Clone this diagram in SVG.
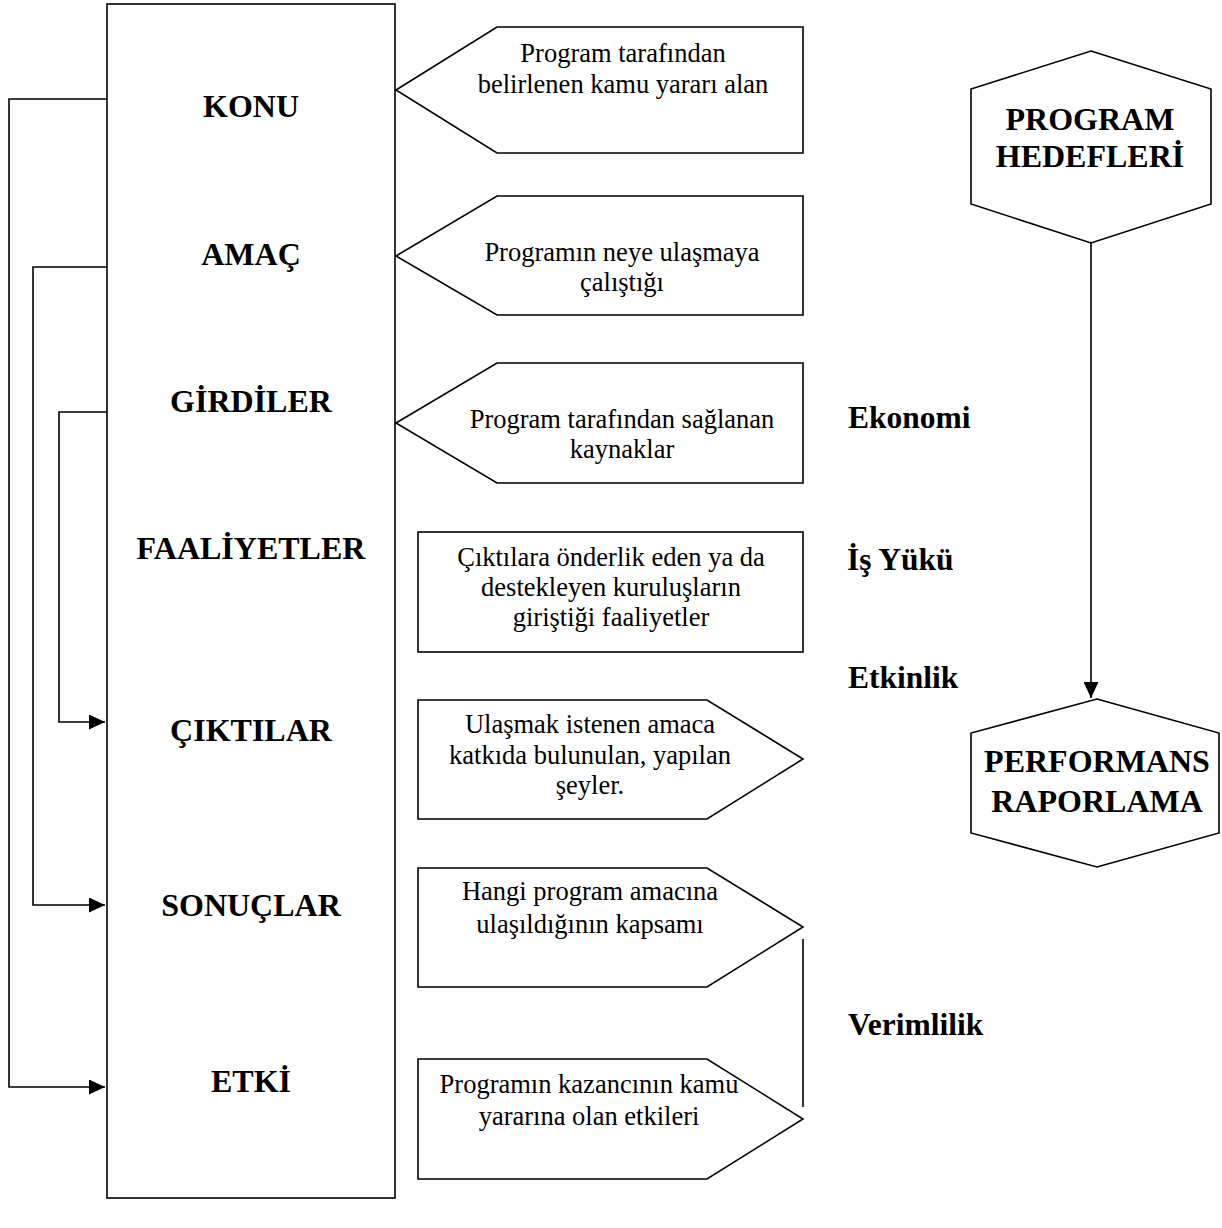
<svg xmlns="http://www.w3.org/2000/svg" width="1222" height="1228" viewBox="0 0 1222 1228">
<defs>
<style>
.s{fill:#fff;stroke:#000;stroke-width:1.6}
.c{fill:none;stroke:#000;stroke-width:1.6}
.lb{font-family:"Liberation Serif","Times New Roman",serif;font-weight:bold;font-size:32px;fill:#000;text-anchor:middle}
.mb{font-family:"Liberation Serif","Times New Roman",serif;font-weight:bold;font-size:31.5px;fill:#000}
.t{font-family:"Liberation Serif","Times New Roman",serif;font-size:26.5px;fill:#000;text-anchor:middle}
</style>
<marker id="ah" viewBox="0 0 10 10" refX="10" refY="5" markerWidth="16" markerHeight="15" markerUnits="userSpaceOnUse" orient="auto" preserveAspectRatio="none">
<path d="M0,0 L10,5 L0,10 Z" fill="#000"/>
</marker>
</defs>
<rect width="1222" height="1228" fill="#fff"/>

<g id="connectors">
<polyline class="c" points="107,99 9,99 9,1087 105,1087" marker-end="url(#ah)"/>
<polyline class="c" points="107,267 33,267 33,905 105,905" marker-end="url(#ah)"/>
<polyline class="c" points="107,412 59,412 59,722 105,722" marker-end="url(#ah)"/>
<line class="c" x1="1091" y1="243" x2="1091" y2="698" marker-end="url(#ah)"/>
<line class="c" x1="803" y1="939" x2="803" y2="1107"/>
</g>

<g id="main">
<rect class="s" x="107" y="4" width="288" height="1194"/>
<text class="lb" x="251" y="117">KONU</text>
<text class="lb" x="251" y="265">AMAÇ</text>
<text class="lb" x="251" y="412">GİRDİLER</text>
<text class="lb" x="251" y="559">FAALİYETLER</text>
<text class="lb" x="251" y="741">ÇIKTILAR</text>
<text class="lb" x="251" y="916">SONUÇLAR</text>
<text class="lb" x="251" y="1092">ETKİ</text>
</g>

<g id="konu-desc">
<polygon class="s" points="396,90 497,27 803,27 803,153 497,153"/>
<text class="t" x="623" y="62">Program tarafından</text>
<text class="t" x="623" y="93">belirlenen kamu yararı alan</text>
</g>

<g id="amac-desc">
<polygon class="s" points="396,256 497,196 803,196 803,315 497,315"/>
<text class="t" x="622" y="261">Programın neye ulaşmaya</text>
<text class="t" x="622" y="291">çalıştığı</text>
</g>

<g id="girdiler-desc">
<polygon class="s" points="396,423 497,363 803,363 803,483 497,483"/>
<text class="t" x="622" y="428">Program tarafından sağlanan</text>
<text class="t" x="622" y="458">kaynaklar</text>
</g>

<g id="faaliyetler-desc">
<rect class="s" x="418" y="532" width="385" height="120"/>
<text class="t" x="611" y="566">Çıktılara önderlik eden ya da</text>
<text class="t" x="611" y="596">destekleyen kuruluşların</text>
<text class="t" x="611" y="626">giriştiği faaliyetler</text>
</g>

<g id="ciktilar-desc">
<polygon class="s" points="418,700 707,700 803,759 707,819 418,819"/>
<text class="t" x="590" y="733">Ulaşmak istenen amaca</text>
<text class="t" x="590" y="764">katkıda bulunulan, yapılan</text>
<text class="t" x="590" y="794">şeyler.</text>
</g>

<g id="sonuclar-desc">
<polygon class="s" points="418,868 707,868 803,927 707,987 418,987"/>
<text class="t" x="590" y="900">Hangi program amacına</text>
<text class="t" x="590" y="933">ulaşıldığının kapsamı</text>
</g>

<g id="etki-desc">
<polygon class="s" points="418,1059 707,1059 803,1119 707,1179 418,1179"/>
<text class="t" x="589" y="1093">Programın kazancının kamu</text>
<text class="t" x="589" y="1125">yararına olan etkileri</text>
</g>

<g id="measures">
<text class="mb" x="848" y="428">Ekonomi</text>
<text class="mb" x="847" y="570">İş Yükü</text>
<text class="mb" x="848" y="688">Etkinlik</text>
<text class="mb" x="848" y="1035">Verimlilik</text>
</g>

<g id="program-hedefleri">
<polygon class="s" points="1091,51 1211,89 1211,204 1091,243 971,204 971,89"/>
<text class="lb" x="1090" y="130">PROGRAM</text>
<text class="lb" x="1090" y="167">HEDEFLERİ</text>
</g>

<g id="performans-raporlama">
<polygon class="s" points="1097,699 1219,733 1219,833 1097,867 971,833 971,733"/>
<text class="lb" x="1097" y="772">PERFORMANS</text>
<text class="lb" x="1097" y="812">RAPORLAMA</text>
</g>
</svg>
